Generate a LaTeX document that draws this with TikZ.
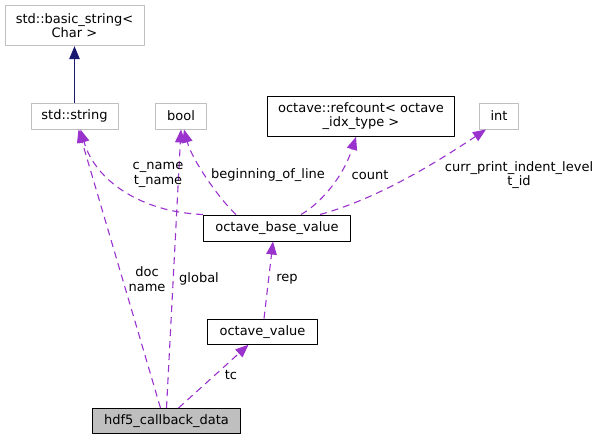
\documentclass[tikz,border=0pt]{standalone}
\usepackage{fontspec}
\setmainfont{DejaVu Sans}
\usetikzlibrary{arrows.meta}
\definecolor{edgepurple}{HTML}{9A32CD}
\definecolor{edgenavy}{HTML}{191970}
\definecolor{boxgray}{HTML}{BFBFBF}

\begin{document}
\begin{tikzpicture}[x=1pt, y=-1pt, line join=round,
    font=\fontsize{13}{14.5}\selectfont,
    cls/.style={draw=black, line width=1pt, minimum height=26pt, inner sep=0pt, align=center},
    ext/.style={cls, draw=boxgray},
    usage/.style={edgepurple, line width=1.1pt, dash pattern=on 7pt off 5pt, -{Triangle[length=13pt,width=10.5pt]}},
    inherit/.style={edgenavy, line width=1.1pt, -{Triangle[length=13pt,width=10.5pt]}},
    lbl/.style={inner sep=0pt, align=center}]
    \useasboundingbox (0,0) rectangle (600,440);

    \node[ext, minimum width=139pt, minimum height=40pt] (basic) at (74.5,25.7) {std::basic\_string<\\Char >};
    \node[ext, minimum width=87pt] (str) at (74.5,116) {std::string};
    \node[ext, minimum width=51pt] (bool) at (181,116) {bool};
    \node[cls, minimum width=187pt, minimum height=40pt] (refcount) at (361,116.3) {octave::refcount< octave\\\_idx\_type >};
    \node[ext, minimum width=39pt] (int) at (499,116) {int};
    \node[cls, minimum width=147pt] (obv) at (277,228) {octave\_base\_value};
    \node[cls, minimum width=110pt, minimum height=25pt] (oval) at (262.5,331.7) {octave\_value};
    \node[cls, fill=boxgray, minimum width=148pt, minimum height=25pt] (hdf) at (166.5,421) {hdf5\_callback\_data};

    \draw[inherit] (str) -- (basic);
    \draw[usage] (obv.north west) .. controls (140,212) and (95,180) .. ([xshift=6pt]str.south);
    \draw[usage] ([xshift=-6pt]hdf.north) -- ([xshift=4pt]str.south);
    \draw[usage] (hdf.north) -- (bool.south);
    \draw[usage] ([xshift=33pt]obv.north west) .. controls (220,200) and (192,160) .. ([xshift=3pt]bool.south);
    \draw[usage] ([xshift=24pt]obv.north) .. controls (318,205) and (342,180) .. ([xshift=-5pt]refcount.south);
    \draw[usage] ([xshift=43pt]obv.north) .. controls (380,198) and (440,160) .. ([xshift=7pt]int.south west);
    \draw[usage] ([xshift=1.5pt]oval.north) -- ([xshift=-4pt]obv.south);
    \draw[usage] ([xshift=12pt]hdf.north) -- ([xshift=-14pt]oval.south);

    \node[lbl] (lname) at (158,175) {c\_name\\t\_name};
    \node[lbl] (ldoc) at (147,279) {doc\\name};
    \node[lbl] (lglobal) at (199,279) {global};
    \node[lbl] (lbol) at (268,175) {beginning\_of\_line};
    \node[lbl] (lcount) at (370,175) {count};
    \node[lbl] (lindent) at (519,175) {curr\_print\_indent\_level\\t\_id};
    \node[lbl] (lrep) at (287,279) {rep};
    \node[lbl] (ltc) at (231,375) {tc};
  \end{tikzpicture}
\end{document}
